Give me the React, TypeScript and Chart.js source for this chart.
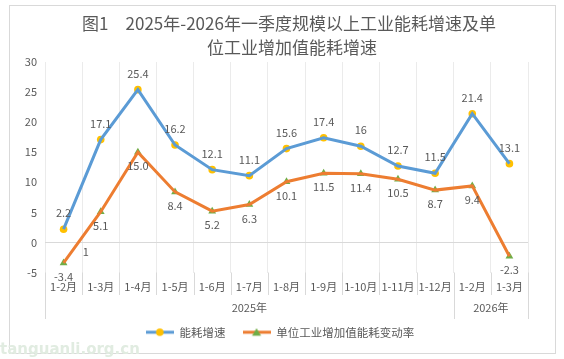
import React, { useEffect, useRef } from 'react';
import { Chart, registerables } from 'chart.js';

Chart.register(...registerables);

const categories = ['1-2月', '1-3月', '1-4月', '1-5月', '1-6月', '1-7月', '1-8月', '1-9月', '1-10月', '1-11月', '1-12月', '1-2月', '1-3月'];
const energyGrowth = [2.2, 17.1, 25.4, 16.2, 12.1, 11.1, 15.6, 17.4, 16, 12.7, 11.5, 21.4, 13.1];
const unitEnergyChange = [-3.4, 5.1, 15.0, 8.4, 5.2, 6.3, 10.1, 11.5, 11.4, 10.5, 8.7, 9.4, -2.3];
const yearGroups = [
  { label: '2025年', from: 0, to: 10 },
  { label: '2026年', from: 11, to: 12 },
];
const seriesNames = ['能耗增速', '单位工业增加值能耗变动率'];
const titleLines = ['图1　2025年-2026年一季度规模以上工业能耗增速及单', '位工业增加值能耗增速'];
const strayLabel = { text: '1', index: 0.6, value: -1.6 };
const watermark = 'tanguanli.org.cn';
const yMin = -5;
const yMax = 30;
const yStep = 5;

const FONT = '"Noto Sans CJK SC", "Noto Sans", sans-serif';
const TEXT = '#595959';

function legendIcon(line: string, marker: string, shape: 'circle' | 'triangle') {
  const c = document.createElement('canvas');
  c.width = 28;
  c.height = 10;
  const ctx = c.getContext('2d')!;
  ctx.strokeStyle = line;
  ctx.lineWidth = 3;
  ctx.beginPath();
  ctx.moveTo(0, 5);
  ctx.lineTo(28, 5);
  ctx.stroke();
  ctx.fillStyle = marker;
  ctx.beginPath();
  if (shape === 'circle') {
    ctx.arc(14, 5, 3.8, 0, Math.PI * 2);
  } else {
    ctx.moveTo(14, 1);
    ctx.lineTo(18.5, 8.5);
    ctx.lineTo(9.5, 8.5);
    ctx.closePath();
  }
  ctx.fill();
  return c;
}

const decorPlugin = {
  id: 'decor',
  afterLayout(chart: any) {
    if (chart.legend) {
      chart.legend.left += 11;
      chart.legend.right += 11;
    }
  },
  beforeDraw(chart: any) {
    const ctx = chart.ctx;
    ctx.save();
    ctx.fillStyle = '#ffffff';
    ctx.fillRect(0, 0, chart.width, chart.height);
    ctx.strokeStyle = '#d9d9d9';
    ctx.lineWidth = 1;
    ctx.strokeRect(9.5, 5.5, 546, 348);
    ctx.restore();
  },
  afterDraw(chart: any) {
    const ctx = chart.ctx;
    const xs = chart.scales.x;
    const ys = chart.scales.y;
    const area = chart.chartArea;
    ctx.save();
    // title
    ctx.fillStyle = TEXT;
    ctx.font = `17px ${FONT}`;
    ctx.textAlign = 'center';
    ctx.textBaseline = 'middle';
    ctx.fillText(titleLines[0], 289, 24);
    ctx.fillText(titleLines[1], 292, 48);

    // category divider extensions
    ctx.strokeStyle = '#d9d9d9';
    ctx.lineWidth = 1;
    const longBounds = new Set<number>();
    yearGroups.forEach((g) => {
      longBounds.add(g.from);
      longBounds.add(g.to + 1);
    });
    for (let i = 0; i <= categories.length; i++) {
      const px = Math.round(xs.getPixelForValue(i - 0.5)) + 0.5;
      const end = longBounds.has(i) ? 319 : 295;
      ctx.beginPath();
      ctx.moveTo(px, area.bottom);
      ctx.lineTo(px, end);
      ctx.stroke();
    }
    // year labels
    ctx.fillStyle = TEXT;
    ctx.font = `11px ${FONT}`;
    yearGroups.forEach((g) => {
      const cx = (xs.getPixelForValue(g.from - 0.5) + xs.getPixelForValue(g.to + 0.5)) / 2;
      ctx.fillText(g.label, cx, 308);
    });

    // data labels
    ctx.font = `11px ${FONT}`;
    ctx.fillStyle = TEXT;
    const m0 = chart.getDatasetMeta(0);
    m0.data.forEach((pt: any, i: number) => {
      ctx.fillText(String(energyGrowth[i]), pt.x, pt.y - 16);
    });
    const m1 = chart.getDatasetMeta(1);
    m1.data.forEach((pt: any, i: number) => {
      ctx.fillText(unitEnergyChange[i].toFixed(1), pt.x, pt.y + 14);
    });
    ctx.fillText(strayLabel.text, xs.getPixelForValue(strayLabel.index), ys.getPixelForValue(strayLabel.value));

    // watermark
    ctx.font = `bold 15px "DejaVu Sans", sans-serif`;
    ctx.fillStyle = '#e1ece1';
    ctx.textAlign = 'left';
    ctx.fillText(watermark, 0, 350);
    ctx.restore();
  },
};

export default function App() {
  const ref = useRef<HTMLCanvasElement | null>(null);
  useEffect(() => {
    if (!ref.current) return;
    const chart = new Chart(ref.current, {
      type: 'line',
      data: {
        labels: categories,
        datasets: [
          {
            label: seriesNames[0],
            data: energyGrowth,
            borderColor: '#5B9BD5',
            borderWidth: 3,
            pointStyle: legendIcon('#5B9BD5', '#FFC000', 'circle') as any,
            pointRadius: 0,
            tension: 0,
          },
          {
            label: seriesNames[1],
            data: unitEnergyChange,
            borderColor: '#ED7D31',
            borderWidth: 3,
            pointStyle: legendIcon('#ED7D31', '#70AD47', 'triangle') as any,
            pointRadius: 0,
            tension: 0,
          },
          {
            label: '_m0',
            data: energyGrowth,
            showLine: false,
            pointStyle: 'circle',
            pointRadius: 3.8,
            pointBackgroundColor: '#FFC000',
            pointBorderColor: '#FFC000',
            pointBorderWidth: 0,
          },
          {
            label: '_m1',
            data: unitEnergyChange,
            showLine: false,
            pointStyle: 'triangle',
            pointRadius: 4.5,
            pointBackgroundColor: '#70AD47',
            pointBorderColor: '#70AD47',
            pointBorderWidth: 0,
          },
        ],
      },
      options: {
        responsive: false,
        animation: false,
        layout: { padding: { left: 10, right: 36, top: 62, bottom: 11 } },
        plugins: {
          title: { display: false },
          tooltip: { enabled: false },
          legend: {
            position: 'bottom',
            labels: {
              usePointStyle: true,
              pointStyleWidth: 28,
              padding: 17,
              color: TEXT,
              font: { size: 11.5, family: FONT },
              filter: (item: any) => !String(item.text).startsWith('_'),
            },
          },
        },
        scales: {
          x: {
            offset: true,
            border: { display: false },
            grid: { offset: true, color: '#ebebeb', drawTicks: false },
            ticks: { color: TEXT, font: { size: 11, family: FONT }, padding: 8, maxRotation: 0, autoSkip: false },
            afterFit: (s: any) => {
              s.height = 37;
            },
          },
          y: {
            min: yMin,
            max: yMax,
            border: { display: false },
            grid: {
              drawTicks: false,
              color: (c: any) => (c.tick && c.tick.value === 0 ? '#d9d9d9' : 'rgba(0,0,0,0)'),
            },
            ticks: { stepSize: yStep, color: TEXT, font: { size: 11, family: FONT }, padding: 8 },
            afterFit: (s: any) => {
              s.width = 35;
            },
          },
        },
      },
      plugins: [decorPlugin],
    });
    return () => chart.destroy();
  }, []);
  return (
    <div style={{ position: 'absolute', left: 0, top: 0, width: 564, height: 359 }}>
      <canvas ref={ref} width={564} height={359} style={{ display: 'block' }} />
    </div>
  );
}
